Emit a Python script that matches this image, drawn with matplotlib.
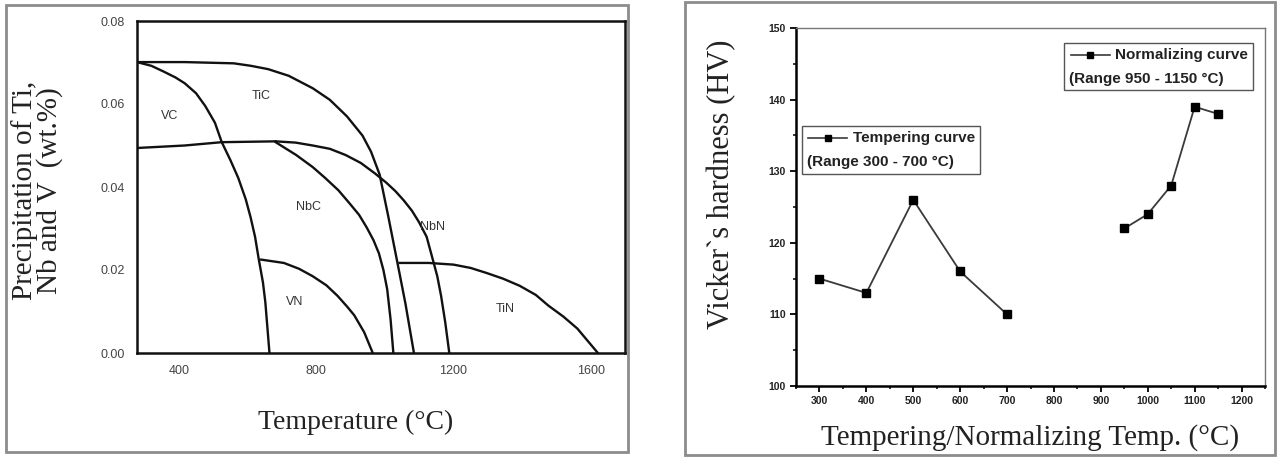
import numpy as np
import matplotlib.pyplot as plt
from matplotlib.patches import Rectangle
from matplotlib.lines import Line2D
from matplotlib.offsetbox import (AnchoredOffsetbox, DrawingArea, HPacker,
                                  TextArea, VPacker)

# ---- left panel: precipitation curves (temperature, wt.%)
tic_t = [278, 417, 560, 610, 660, 720, 790, 840, 890, 935, 960, 985, 1010, 1037, 1060, 1085]
tic_w = [0.0701, 0.0701, 0.0698, 0.0692, 0.0684, 0.0668, 0.0638, 0.0610, 0.0570,
         0.0524, 0.0485, 0.0430, 0.0330, 0.0217, 0.0120, 0.0]

vc_t = [278, 320, 356, 390, 417, 450, 477, 505, 525, 550, 573, 595, 609, 622, 633, 645, 652, 664]
vc_w = [0.0701, 0.0692, 0.0678, 0.0664, 0.0650, 0.0626, 0.0595, 0.0555, 0.0508,
        0.0465, 0.0422, 0.0370, 0.0327, 0.0280, 0.0225, 0.0170, 0.0122, 0.0]

nb_t = [278, 417, 525, 682]
nb_w = [0.0494, 0.0500, 0.0508, 0.0510]

nbn_t = [682, 740, 790, 840, 886, 930, 971, 1005, 1031, 1055, 1079, 1100, 1122, 1140, 1153, 1164, 1176, 1188]
nbn_w = [0.0510, 0.0507, 0.0500, 0.0492, 0.0477, 0.0458, 0.0433, 0.0410, 0.0390,
         0.0368, 0.0343, 0.0315, 0.0280, 0.0225, 0.0185, 0.0138, 0.0075, 0.0]

nbc_t = [682, 742, 790, 826, 865, 899, 925, 947, 967, 983, 996, 1007, 1017, 1025]
nbc_w = [0.0508, 0.0477, 0.0448, 0.0422, 0.0392, 0.0359, 0.0333, 0.0303, 0.0272,
         0.0240, 0.0200, 0.0154, 0.0080, 0.0]

vn_t = [640, 706, 750, 790, 830, 862, 890, 911, 940, 965]
vn_w = [0.0225, 0.0217, 0.0203, 0.0185, 0.0163, 0.0138, 0.0112, 0.0091, 0.0050, 0.0]

tin_t = [1043, 1128, 1200, 1250, 1296, 1345, 1393, 1440, 1477, 1520, 1561, 1621]
tin_w = [0.0217, 0.0217, 0.0213, 0.0205, 0.0193, 0.0179, 0.0162, 0.0140, 0.0114,
         0.0088, 0.0059, 0.0]

phase_names = ['VC', 'TiC', 'NbC', 'NbN', 'VN', 'TiN']
phase_t = [374, 640, 778, 1140, 736, 1350]
phase_w = [0.0571, 0.0619, 0.0351, 0.0303, 0.0122, 0.0106]

# ---- right panel: hardness
temper_t = [300, 400, 500, 600, 700]
temper_hv = [115, 113, 126, 116, 110]
norm_t = [950, 1000, 1050, 1100, 1150]
norm_hv = [122, 124, 128, 139, 138]

W, H = 1282, 457
fig = plt.figure(figsize=(W / 100, H / 100), dpi=100)

serif = 'Liberation Serif'
sans = 'Liberation Sans'

# panel frames
for x0, y0, x1, y1 in [(6, 5, 628, 452), (685, 2, 1275, 455)]:
    fig.patches.append(Rectangle((x0 / W, 1 - y1 / H), (x1 - x0) / W, (y1 - y0) / H,
                                 transform=fig.transFigure, fill=False,
                                 edgecolor='#8c8c8c', lw=2))

# ---------------- left
ax1 = fig.add_axes([137 / W, 1 - 353 / H, (625 - 137) / W, (353 - 21) / H])
for t, w in [(tic_t, tic_w), (vc_t, vc_w), (nb_t, nb_w), (nbn_t, nbn_w),
             (nbc_t, nbc_w), (vn_t, vn_w), (tin_t, tin_w)]:
    ax1.plot(t, w, color='#111111', lw=1.7, solid_joinstyle='round')
for name, t, w in zip(phase_names, phase_t, phase_w):
    ax1.text(t, w, name, fontsize=9, family=sans, color='#333333',
             ha='center', va='center')
ax1.set_xlim(278, 1700)
ax1.set_ylim(0, 0.08)
ax1.set_xticks([400, 800, 1200, 1600])
ax1.set_yticks([0.0, 0.02, 0.04, 0.06, 0.08])
ax1.set_yticklabels(['0.00', '0.02', '0.04', '0.06', '0.08'])
ax1.tick_params(length=0, labelsize=9, labelcolor='#444444', pad=9)
for lab in ax1.get_xticklabels() + ax1.get_yticklabels():
    lab.set_family(sans)
for s in ax1.spines.values():
    s.set_linewidth(1.8)
    s.set_color('#111111')
ax1.set_ylabel('Precipitation of Ti,\nNb and V  (wt.%)', family=serif,
               fontsize=21, linespacing=0.92, color='#222222')
ax1.yaxis.set_label_coords(-0.152, 0.49)
ax1.set_xlabel('Temperature (°C)', family=serif, fontsize=20, color='#222222')
ax1.xaxis.set_label_coords(0.449, -0.17)

# ---------------- right
ax2 = fig.add_axes([796 / W, 1 - 386 / H, (1265 - 796) / W, (386 - 28) / H])
ax2.plot(temper_t, temper_hv, color='#3a3a3a', lw=1.3, marker='s',
         markersize=6, markerfacecolor='black', markeredgecolor='black')
ax2.plot(norm_t, norm_hv, color='#3a3a3a', lw=1.3, marker='s',
         markersize=6, markerfacecolor='black', markeredgecolor='black')
ax2.set_xlim(250, 1250)
ax2.set_ylim(100, 150)
ax2.set_xticks(np.arange(300, 1201, 100))
ax2.set_xticks(np.arange(250, 1251, 50), minor=True)
ax2.set_yticks(np.arange(100, 151, 10))
ax2.set_yticks(np.arange(100, 151, 5), minor=True)
ax2.tick_params(which='major', direction='out', length=4.5, width=1.3, pad=3,
                labelsize=7.5)
ax2.tick_params(which='minor', direction='out', length=2.5, width=1.1)
ax2.tick_params(top=False, right=False, which='both')
for lab in ax2.get_xticklabels() + ax2.get_yticklabels():
    lab.set_family(sans)
    lab.set_fontweight('bold')
    lab.set_color('#222222')
ax2.spines['left'].set_linewidth(1.8)
ax2.spines['bottom'].set_linewidth(1.8)
ax2.spines['top'].set_linewidth(1.0)
ax2.spines['right'].set_linewidth(1.0)
ax2.spines['top'].set_color('#777777')
ax2.spines['right'].set_color('#777777')
ax2.set_ylabel('Vicker`s hardness (HV)', family=serif, fontsize=22, color='#222222')
ax2.yaxis.set_label_coords(-0.128, 0.564)
ax2.set_xlabel('Tempering/Normalizing Temp. (°C)', family=serif, fontsize=21,
               color='#222222')
ax2.xaxis.set_label_coords(0.5, -0.105)


def curve_box(label, rng, loc, anchor):
    da = DrawingArea(30, 10, 0, 0)
    da.add_artist(Line2D([1, 29], [5, 5], color='#3a3a3a', lw=1.2))
    da.add_artist(Line2D([15], [5], marker='s', markersize=4.5,
                         color='black', lw=0))
    tprops = dict(family=sans, fontsize=11, fontweight='bold', color='#222222')
    row = HPacker(children=[da, TextArea(label, textprops=tprops)],
                  align='center', pad=0, sep=3)
    col = VPacker(children=[row, TextArea(rng, textprops=tprops)],
                  align='left', pad=0, sep=7)
    box = AnchoredOffsetbox(loc=loc, child=col, pad=0.35, borderpad=0,
                            frameon=True, bbox_to_anchor=anchor,
                            bbox_transform=ax2.transAxes)
    box.patch.set_edgecolor('#555555')
    box.patch.set_linewidth(1.0)
    ax2.add_artist(box)


curve_box('Tempering curve', '(Range 300 - 700 °C)', 'upper left', (0.0128, 0.726))
curve_box('Normalizing curve', '(Range 950 - 1150 °C)', 'upper right', (0.974, 0.958))

fig.savefig('out.png', dpi=100)
